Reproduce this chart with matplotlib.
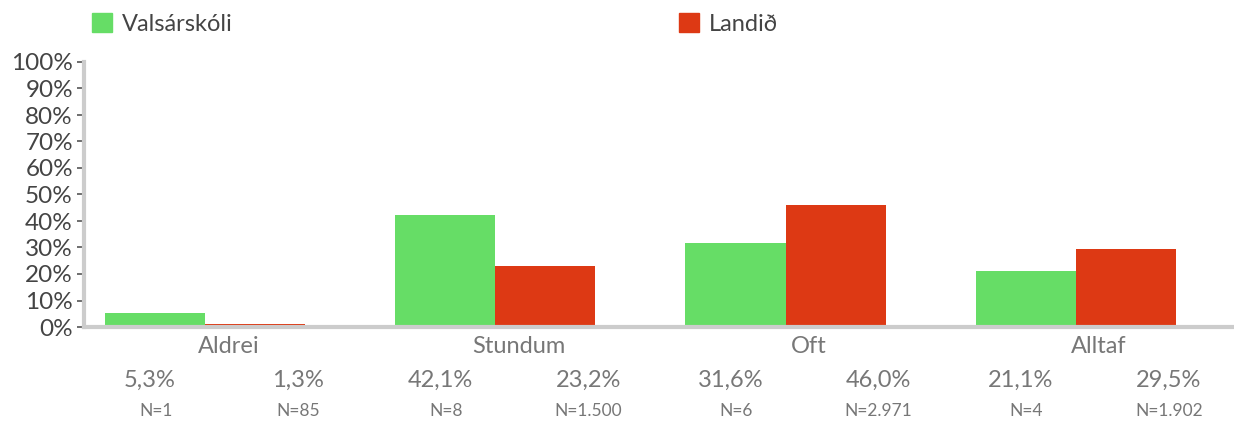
import matplotlib
matplotlib.use("Agg")
import matplotlib.pyplot as plt
from matplotlib.patches import Patch
import matplotlib.transforms as mtransforms

categories = ["Aldrei", "Stundum", "Oft", "Alltaf"]
series_names = ["Valsárskóli", "Landið"]
vals_school = [5.3, 42.1, 31.6, 21.1]
vals_land = [1.3, 23.2, 46.0, 29.5]
n_school = ["N=1", "N=8", "N=6", "N=4"]
n_land = ["N=85", "N=1.500", "N=2.971", "N=1.902"]
yticks = [0, 10, 20, 30, 40, 50, 60, 70, 80, 90, 100]

green = "#66DD66"
red = "#DD3914"
font = "Lato"

fig = plt.figure(figsize=(12.34, 4.23), dpi=100)
ax = fig.add_axes([84 / 1234, (423 - 327) / 423, 1 - 84 / 1234, (327 - 62) / 423])

w = 0.345
xs = list(range(len(categories)))
ax.bar([x - w / 2 for x in xs], vals_school, width=w, color=green, zorder=2)
ax.bar([x + w / 2 for x in xs], vals_land, width=w, color=red, zorder=2)

ax.set_xlim(-0.417, 3.545)
ax.set_ylim(0, 100)
ax.set_yticks(yticks)
ax.set_yticklabels([f"{t}%" for t in yticks], fontsize=17.5, family=font, color="#444444")
ax.tick_params(axis="y", length=5, width=1.2, color="#555555", pad=3)
ax.set_xticks([])
for s in ["top", "right"]:
    ax.spines[s].set_visible(False)
for s in ["left", "bottom"]:
    ax.spines[s].set_color("#CCCCCC")
    ax.spines[s].set_linewidth(3)
    ax.spines[s].set_zorder(3)

trans = mtransforms.blended_transform_factory(ax.transData, fig.transFigure)
def fy(py):
    return (423 - py) / 423

for i, c in enumerate(categories):
    ax.text(i + 0.08, fy(346), c, transform=trans, ha="center", va="center",
            fontsize=17, family=font, color="#777777")
    ax.text(i - 0.19, fy(380), f"{vals_school[i]:.1f}%".replace(".", ","), transform=trans,
            ha="center", va="center", fontsize=17, family=font, color="#777777")
    ax.text(i + 0.32, fy(380), f"{vals_land[i]:.1f}%".replace(".", ","), transform=trans,
            ha="center", va="center", fontsize=17, family=font, color="#777777")
    ax.text(i - 0.17, fy(411), n_school[i], transform=trans,
            ha="center", va="center", fontsize=12.5, family=font, color="#777777")
    ax.text(i + 0.32, fy(411), n_land[i], transform=trans,
            ha="center", va="center", fontsize=12.5, family=font, color="#777777")

# legend
handles = [Patch(color=green), Patch(color=red)]
fig.legend([handles[0]], [series_names[0]], loc="center left", bbox_to_anchor=(71 / 1234, fy(24)),
           frameon=False, handlelength=0.85, handleheight=0.85, handletextpad=0.4,
           prop={"family": font, "size": 17}, labelcolor="#444444")
fig.legend([handles[1]], [series_names[1]], loc="center left", bbox_to_anchor=(658 / 1234, fy(24)),
           frameon=False, handlelength=0.85, handleheight=0.85, handletextpad=0.4,
           prop={"family": font, "size": 17}, labelcolor="#444444")

fig.savefig("out.png", dpi=100)
